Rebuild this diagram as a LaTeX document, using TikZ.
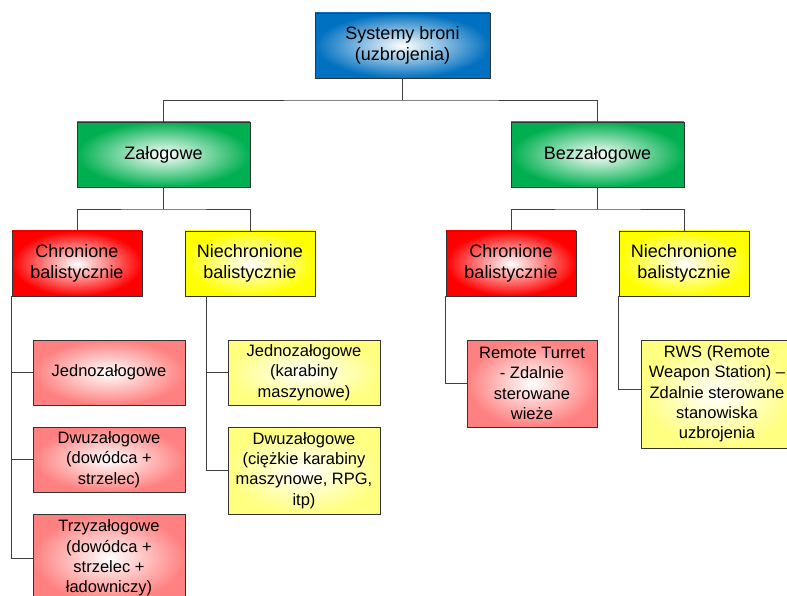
\documentclass[tikz,border=0pt]{standalone}
\usepackage{fontspec}
\setmainfont{Liberation Sans}
\definecolor{cblue}{HTML}{0070C0}
\definecolor{cgreen}{HTML}{00B050}
\definecolor{cred}{HTML}{FF0000}
\definecolor{cyellow}{HTML}{FFFF00}
\definecolor{cpink}{HTML}{FF8080}
\definecolor{cpaley}{HTML}{FFFF80}
\definecolor{edge}{HTML}{333333}
\definecolor{wire}{HTML}{404040}
\tikzset{
  box/.style={draw=edge, line width=0.9pt, inner sep=0pt, align=center, inner color=white},
  big/.style={box, font=\fontsize{18}{21.5}\selectfont},
  small/.style={box, font=\fontsize{16.5}{20.3}\selectfont},
  wirestyle/.style={draw=wire, line width=0.9pt}
}
\begin{document}
\begin{tikzpicture}[x=1pt,y=-1pt]
\useasboundingbox (0,0) rectangle (787,596);
% level 0
\node[big, outer color=cblue, minimum width=175pt, minimum height=65pt] (top) at (402.5,45.5) {Systemy broni\\(uzbrojenia)};
% level 1
\node[big, outer color=cgreen, minimum width=173pt, minimum height=65pt] (zal) at (163.5,154.5) {Załogowe};
\node[big, outer color=cgreen, minimum width=173pt, minimum height=65pt] (bez) at (597.5,154.5) {Bezzałogowe};
% level 2
\node[big, outer color=cred, minimum width=130pt, minimum height=65pt] (lc) at (77,263.5) {Chronione\\balistycznie};
\node[big, outer color=cyellow, minimum width=130pt, minimum height=65pt] (lnc) at (250,263.5) {Niechronione\\balistycznie};
\node[big, outer color=cred, minimum width=130pt, minimum height=65pt] (rc) at (511,263.5) {Chronione\\balistycznie};
\node[big, outer color=cyellow, minimum width=130pt, minimum height=65pt] (rnc) at (684,263.5) {Niechronione\\balistycznie};
% level 3 left chronione
\node[small, outer color=cpink, minimum width=152pt, minimum height=65pt] (lc1) at (109,372.5) {Jednozałogowe};
\node[small, outer color=cpink, minimum width=152pt, minimum height=65pt] (lc2) at (109,459.5) {Dwuzałogowe\\(dowódca +\\strzelec)};
\node[small, outer color=cpink, minimum width=152pt, minimum height=88pt] (lc3) at (109,558) {Trzyzałogowe\\(dowódca +\\strzelec +\\ładowniczy)};
% level 3 left niechronione
\node[small, outer color=cpaley, minimum width=152pt, minimum height=65pt] (lnc1) at (304,372.5) {Jednozałogowe\\(karabiny\\maszynowe)};
\node[small, outer color=cpaley, minimum width=152pt, minimum height=87pt] (lnc2) at (304,470.5) {Dwuzałogowe\\(ciężkie karabiny\\maszynowe, RPG,\\itp)};
% level 3 right
\node[small, outer color=cpink, minimum width=130pt, minimum height=87pt] (rc1) at (532,383.5) {Remote Turret\\- Zdalnie\\sterowane\\wieże};
\node[small, outer color=cpaley, minimum width=152pt, minimum height=108pt] (rnc1) at (717,394) {RWS (Remote\\Weapon Station) –\\Zdalnie sterowane\\stanowiska\\uzbrojenia};
% connectors
\coordinate (j0) at (402.5,100);
\draw[wirestyle] (top.south) -- (j0);
\draw[wirestyle] (zal.north) |- (j0) -| (bez.north);
\coordinate (j1) at (163.5,209);
\coordinate (j2) at (597.5,209);
\draw[wirestyle] (zal.south) -- (j1);
\draw[wirestyle] (lc.north) |- (j1) -| (lnc.north);
\draw[wirestyle] (bez.south) -- (j2);
\draw[wirestyle] (rc.north) |- (j2) -| (rnc.north);
\draw[wirestyle] (lc.south west) |- (lc1.west);
\draw[wirestyle] (lc.south west) |- (lc2.west);
\draw[wirestyle] (lc.south west) |- (lc3.west);
\draw[wirestyle] ([xshift=22pt]lnc.south west) |- (lnc1.west);
\draw[wirestyle] ([xshift=22pt]lnc.south west) |- (lnc2.west);
\draw[wirestyle] (rc.south west) |- (rc1.west);
\draw[wirestyle] (rnc.south west) |- ([yshift=5pt]rnc1.west);
\end{tikzpicture}
\end{document}
